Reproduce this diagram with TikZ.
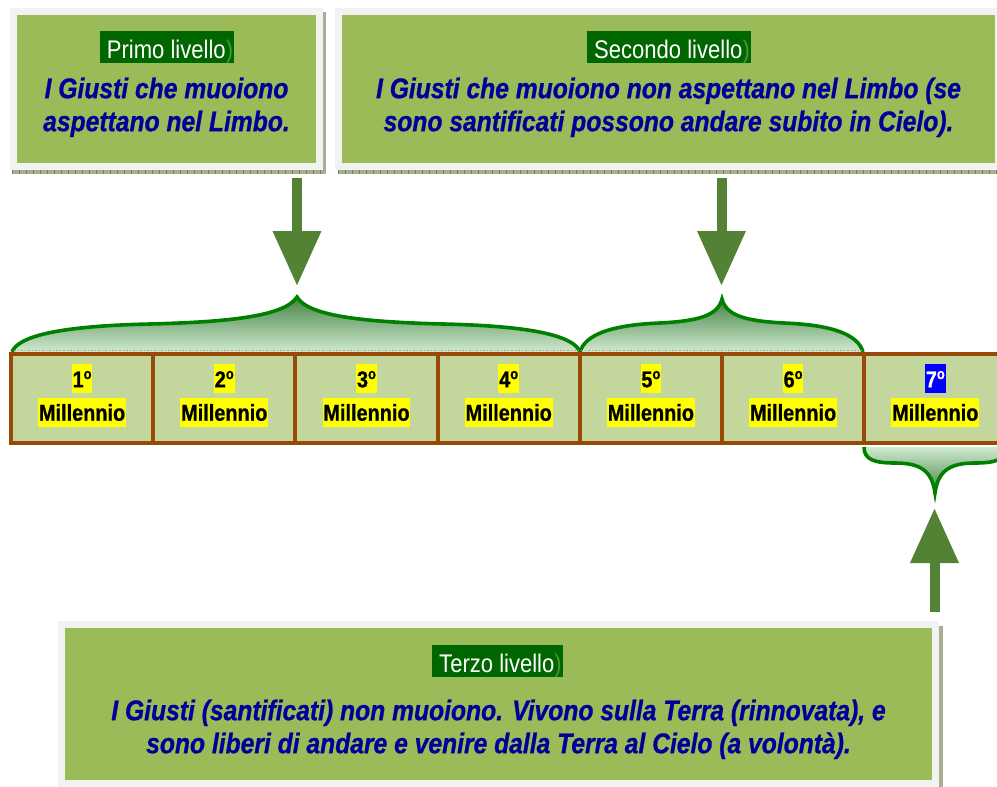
\documentclass[tikz,border=0pt]{standalone}
\usepackage{fontspec}
\setmainfont{Liberation Sans}
\newfontfamily\condfont[FakeStretch=0.865]{Liberation Sans}
\newfontfamily\condbold[FakeStretch=0.865,FakeBold=0.8]{Liberation Sans}
\usetikzlibrary{arrows.meta,calc}
\definecolor{boxgreen}{HTML}{9BBB59}
\definecolor{framegray}{HTML}{F2F2F2}
\definecolor{labelgreen}{HTML}{006600}
\definecolor{parengreen}{RGB}{70,150,50}
\definecolor{bodyblue}{RGB}{0,0,153}
\definecolor{cellfill}{HTML}{C3D69B}
\definecolor{cellbrown}{HTML}{984807}
\definecolor{arrowgreen}{HTML}{548235}
\definecolor{bracegreen}{HTML}{008000}
\definecolor{bracedark}{RGB}{70,132,70}
\definecolor{bracelight}{RGB}{208,234,208}
\definecolor{shadowgray}{RGB}{168,174,144}
\definecolor{shadowtick}{RGB}{120,128,96}
\definecolor{hlyellow}{HTML}{FFFF00}
\definecolor{hlblue}{HTML}{0000FF}
\definecolor{dotbrown}{RGB}{200,150,120}
\newcommand{\mystrut}{\rule{0pt}{22pt}}
\newcommand{\ordo}{\raisebox{8.3pt}{\fontsize{15}{15}\selectfont o}}
\newcommand{\braceone}{(12,352) .. controls (18,336) and (60,326) .. (150,324) .. controls (230,322) and (285,316) .. (297,297) .. controls (308,316) and (363,322) .. (443,324) .. controls (533,326) and (574,336) .. (580,352)}
\newcommand{\bracetwo}{(580,352) .. controls (585,335) and (610,325) .. (660,323) .. controls (700,321) and (718,315) .. (722,299) .. controls (726,315) and (744,321) .. (784,323) .. controls (834,325) and (858,335) .. (863,352)}
\newcommand{\bracethree}{(864,447) .. controls (864,460) and (875,463) .. (895,463) .. controls (922,463) and (932,472) .. (935,493) .. controls (938,472) and (948,463) .. (975,463) .. controls (995,463) and (1006,460) .. (1006,447)}
\begin{document}
\begin{tikzpicture}[x=1pt,y=-1pt,
  frame/.style={draw=framegray, fill=boxgreen, line width=7pt, inner sep=0pt, outer sep=0pt, anchor=north west},
  body/.style={font=\condbold\fontsize{28.5}{33}\selectfont\bfseries\itshape, text=bodyblue, align=center, inner sep=0pt, anchor=north},
  lab/.style={fill=labelgreen, text=white, font=\condfont\fontsize{25.5}{28}\selectfont, inner xsep=1pt, inner ysep=0pt, text height=27pt, text depth=5pt, anchor=base},
  cell/.style={draw=cellbrown, fill=cellfill, line width=4pt, minimum width=142.2pt, minimum height=89pt, inner sep=0pt, outer sep=0pt},
  hl/.style={fill=hlyellow, text=black, font=\condbold\fontsize{23}{26}\selectfont\bfseries, inner xsep=0.8pt, inner ysep=0pt, text height=23pt, text depth=6pt},
  hlb/.style={hl, fill=hlblue, text=white},
  shadowstrip/.style={fill=shadowgray},
  ticks/.style={draw=shadowtick, line width=4pt, dash pattern=on 1pt off 6pt},
  bracefill/.style={top color=bracedark, bottom color=bracelight},
  bracefillinv/.style={top color=bracelight, bottom color=bracedark},
  braceline/.style={draw=bracegreen, line width=3.6pt},
  dotline/.style={draw=dotbrown, line width=1.5pt, dash pattern=on 1.5pt off 2pt},
  bigarrow/.style={draw=arrowgreen, line width=10pt, -{Triangle[width=46pt,length=55pt]}}
]
\useasboundingbox (0,0) rectangle (997,787);
% shadows
\fill[shadowstrip] (12,12) rectangle (326,174);
\draw[ticks] (12,172) -- (326,172);
\fill[shadowstrip] (338,12) rectangle (1002,174);
\draw[ticks] (338,172) -- (1002,172);
\fill[shadowstrip] (60,626) rectangle (943,795);
% boxes
\node[frame, minimum width=306pt, minimum height=155.5pt] (b1) at (13.5,11) {};
\node[frame, minimum width=660pt, minimum height=155.5pt] (b2) at (338.5,11) {};
\node[frame, minimum width=874.5pt, minimum height=159pt] (b3) at (61,624.5) {};
% labels
\node[lab] (l1) at (167,58) {\hspace{6pt}Primo livello{\color{parengreen})}};
\node[lab] (l2) at (669,58) {\hspace{6pt}Secondo livello{\color{parengreen})}};
\node[lab] (l3) at (497.5,672) {\hspace{6pt}Terzo livello{\color{parengreen})}};
% body texts
\node[body] (t1) at (166.5,76) {\mystrut I Giusti che muoiono\\aspettano nel Limbo.};
\node[body] (t2) at (668.5,76) {\mystrut I Giusti che muoiono non aspettano nel Limbo (se\\sono santificati possono andare subito in Cielo).};
\node[body] (t3) at (498.5,698) {\mystrut I Giusti (santificati) non muoiono. Vivono sulla Terra (rinnovata), e\\sono liberi di andare e venire dalla Terra al Cielo (a volontà).};
% braces
\shade[bracefill] \braceone -- cycle;
\draw[braceline] \braceone;
\shade[bracefill] \bracetwo -- cycle;
\draw[braceline] \bracetwo;
\shade[bracefillinv] \bracethree -- cycle;
\draw[braceline] \bracethree;
\draw[dotline] (14,350.5) -- (862,350.5);
% cells
\foreach \i in {1,...,7} {
  \node[cell] (m\i) at ({11+142.2*(\i-0.5)},398.5) {};
}
\foreach \i in {1,...,6} {
  \node[hl, text height=23.3pt, text depth=5.4pt] (n\i) at ($(m\i)+(0,-20.1)$) {\i\ordo};
  \node[hl] (w\i) at ($(m\i)+(0,13.7)$) {Millennio};
}
\node[hlb, text height=23.3pt, text depth=5.4pt] (n7) at ($(m7)+(0,-20.1)$) {7\ordo};
\node[hl] (w7) at ($(m7)+(0,13.7)$) {Millennio};
% arrows
\coordinate (a1s) at (297,178);
\coordinate (a1t) at (297,286);
\coordinate (a2s) at (721.5,178);
\coordinate (a2t) at (721.5,286);
\coordinate (a3s) at (934.5,612);
\coordinate (a3t) at (934.5,508);
\draw[bigarrow] (a1s) -- (a1t);
\draw[bigarrow] (a2s) -- (a2t);
\draw[bigarrow] (a3s) -- (a3t);
\end{tikzpicture}
\end{document}
